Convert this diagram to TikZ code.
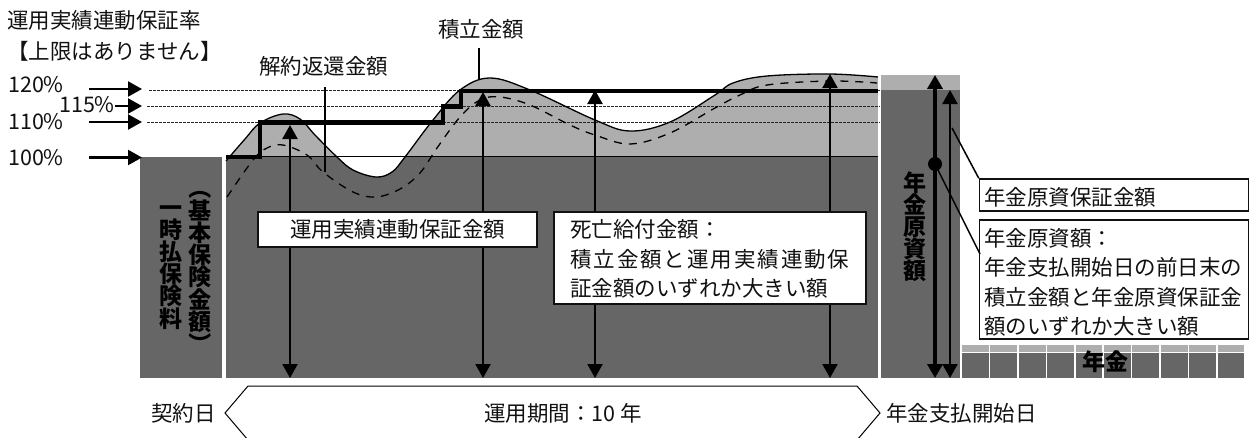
\documentclass[tikz,border=0pt]{standalone}
\usepackage{fontspec}
\setmainfont{Noto Sans CJK JP}
\usetikzlibrary{arrows.meta}
\definecolor{darkfill}{HTML}{666666}
\definecolor{lightfill}{HTML}{AEAEAE}
\definecolor{inkc}{HTML}{111111}
\def\solidcurve{(226,161)(245,139)(260,123)(283,114)(300,119)(315,135)(337,157)(353,170)(376,177)(392,172)(405,157)(433,120)(460,90)(490,78)(530,90)(595,120)(630,131)(670,122)(715,95)(733,83)(767,76)(830,74)(878,77)}
\def\dashcurve{(227,197)(253,160)(267,148)(283,145)(307,155)(323,172)(353,192)(376,197)(400,189)(420,173)(437,148)(460,117)(480,100)(500,97)(530,105)(570,125)(595,135)(630,144)(670,133)(715,108)(740,95)(767,85)(830,81)(877,83)}
\tikzset{
  lbl/.style={inner sep=0pt,font=\fontsize{21.5}{21.5}\selectfont,text=inkc},
  lblw/.style={lbl,anchor=west},
  vlbl/.style={inner sep=0pt,align=center,font=\fontsize{23}{22}\selectfont\bfseries,text=black},
  parenlbl/.style={inner sep=0pt,rotate=-90,font=\fontsize{23}{22}\selectfont\bfseries,text=black},
  cbox/.style={draw=inkc,line width=1.5pt,fill=white},
  pct/.style={line width=2.2pt,-{Triangle[length=14pt,width=15pt]},black},
  dblarrow/.style={line width=2.2pt,{Triangle[length=14pt,width=15pt]}-{Triangle[length=14pt,width=15pt]},black},
  guide/.style={line width=0.9pt,dash pattern=on 2.5pt off 1.5pt,black!85},
  leader/.style={line width=1.2pt,black},
  stepline/.style={line width=4.5pt,black,line join=miter},
}
\begin{document}
\begin{tikzpicture}[x=1pt,y=-1pt]
\useasboundingbox (0,0) rectangle (1249,437);
% fills
\fill[darkfill] (140,157) rectangle (222,378);
\begin{scope}
\clip plot[smooth,tension=0.6] coordinates {\solidcurve} -- (878,378) -- (226,378) -- cycle;
\fill[lightfill] (226,60) rectangle (878,157);
\fill[darkfill] (226,157) rectangle (878,378);
\end{scope}
\fill[lightfill] (881,75) rectangle (960,90);
\fill[darkfill] (881,90) rectangle (960,378);
\foreach \i in {0,...,9}{
  \fill[lightfill] ({962+28.4*\i},345) rectangle ({962+28.4*\i+26.8},352);
  \fill[darkfill] ({962+28.4*\i},353) rectangle ({962+28.4*\i+26.8},378);
}
% guides
\coordinate (g120a) at (149,90);\coordinate (g120b) at (880,90);
\coordinate (g115a) at (147,106.5);\coordinate (g115b) at (880,106.5);
\coordinate (g110a) at (147,122.5);\coordinate (g110b) at (880,122.5);
\draw[guide] (g120a) -- (g120b);
\draw[guide] (g115a) -- (g115b);
\draw[guide] (g110a) -- (g110b);
\coordinate (baseA) at (226,156.5);\coordinate (baseB) at (878,156.5);
\draw[line width=1pt,black] (baseA) -- (baseB);
% curves
\draw[line width=1.3pt,dash pattern=on 8pt off 7pt,black] plot[smooth,tension=0.6] coordinates {\dashcurve};
\draw[line width=1.3pt,black] plot[smooth,tension=0.6] coordinates {\solidcurve};
% step line
\draw[stepline] (226,157) -- (260,157) -- (260,122.5) -- (443,122.5) -- (443,106.5) -- (461,106.5) -- (461,91) -- (878,91);
% percent labels and arrows
\node[lblw] (t1) at (7,20) {運用実績連動保証率};
\node[lblw] (t2) at (7,51) {【上限はありません】};
\node[lblw] (p120) at (8,85) {120\%};
\node[lblw] (p115) at (59,105) {115\%};
\node[lblw] (p110) at (8,122) {110\%};
\node[lblw] (p100) at (8,158) {100\%};
\coordinate (a120) at (89,89);\coordinate (b120) at (142,89);
\coordinate (a115) at (115,106);\coordinate (b115) at (142,106);
\coordinate (a110) at (89,122);\coordinate (b110) at (142,122);
\coordinate (a100) at (89,157.5);\coordinate (b100) at (142,157.5);
\draw[pct] (a120) -- (b120);
\draw[pct] (a115) -- (b115);
\draw[pct] (a110) -- (b110);
\draw[pct] (a100) -- (b100);
% top labels and leaders
\node[lbl] (kaiyaku) at (323.5,66) {解約返還金額};
\node[lbl] (tsumi) at (481,29) {積立金額};
\coordinate (kaiE) at (325,172);
\coordinate (kaiS) at (325,87);
\draw[leader] (kaiS) -- (kaiE);
\coordinate (tsuS) at (479,48);\coordinate (tsuE) at (479,79);
\draw[leader] (tsuS) -- (tsuE);
% vertical arrows
\foreach \n/\x/\y in {a/290/125,b/483/92,c/595/90,d/830/74}{
  \coordinate (up\n) at (\x,\y);
  \coordinate (dn\n) at (\x,378);
  \draw[dblarrow] (up\n) -- (dn\n);
}
% boxes
\node[cbox,minimum width=279pt,minimum height=35pt,inner sep=0pt,lbl] (kb1) at (397.5,229.5) {運用実績連動保証金額};
\node[cbox,minimum width=312pt,minimum height=92pt,inner sep=0pt] (kb2) at (710,258) {};
\node[lblw] (l1) at (570,229) {死亡給付金額：};
\node[lblw] (l2) at (570,259) {\addfontfeatures{LetterSpace=9}積立金額と運用実績連動保};
\node[lblw] (l3) at (570,288) {証金額のいずれか大きい額};
\node[cbox,minimum width=269pt,minimum height=32pt,inner sep=0pt] (rb1) at (1114,195) {};
\node[lblw] (r0) at (984,197) {年金原資保証金額};
\node[cbox,minimum width=269pt,minimum height=119pt,inner sep=0pt] (rb2) at (1114,279.5) {};
\node[lblw] (r1) at (984,238) {年金原資額：};
\node[lblw] (r2) at (984,267) {年金支払開始日の前日末の};
\node[lblw] (r3) at (984,297) {積立金額と年金原資保証金};
\node[lblw] (r4) at (984,326) {額のいずれか大きい額};
% right arrows
\coordinate (thickT) at (935,75);\coordinate (thickB) at (935,378);
\coordinate (thinT) at (950,90);\coordinate (thinB) at (950,378);
\draw[line width=4.5pt,black,{Triangle[length=14pt,width=15pt]}-{Triangle[length=14pt,width=15pt]}] (thickT) -- (thickB);
\draw[line width=2.2pt,black,{Triangle[length=14pt,width=15pt]}-{Triangle[length=14pt,width=15pt]}] (thinT) -- (thinB);
\node[circle,fill=black,inner sep=0pt,minimum size=14pt] (dot) at (935,164) {};
\coordinate (lead1) at (952,128);
\draw[leader,line width=1.5pt] (lead1) -- (rb1.north west);
\coordinate (lead2) at (980,254);
\draw[leader,line width=1.5pt] (dot.center) -- (lead2);
% vertical text
\node[vlbl,anchor=center] (v1) at (171,267.5) {一\\時\\払\\保\\険\\料};
\node[parenlbl] (v2a) at (200,188) {（};
\node[vlbl,anchor=center] (v2) at (200,266) {基\\本\\保\\険\\金\\額};
\node[parenlbl] (v2b) at (200,344) {）};
\node[vlbl,anchor=center] (v3) at (915,227) {年\\金\\原\\資\\額};
\node[lbl,font=\fontsize{23}{23}\selectfont\bfseries,text=black] (nenkin) at (1105,362) {年金};
% bottom
\node[lblw] (keiyaku) at (151,413) {契約日};
\coordinate (p1) at (225,413);\coordinate (p2) at (248,386);\coordinate (p3) at (857,386);
\coordinate (p4) at (880,413);\coordinate (p5) at (857,440);\coordinate (p6) at (248,440);
\draw[line width=1pt,black] (p1) -- (p2) -- (p3) -- (p4) -- (p5) -- (p6) -- cycle;
\node[lbl] (kikan) at (563,413) {運用期間：10 年};
\node[lblw] (nstart) at (886,413) {年金支払開始日};
\end{tikzpicture}
\end{document}
